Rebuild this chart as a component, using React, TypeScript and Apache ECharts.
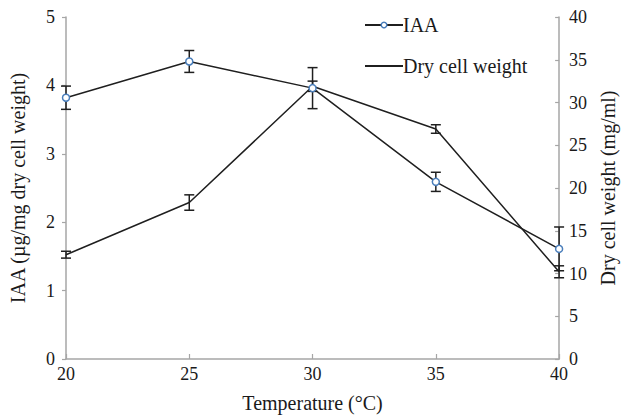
import React, { useEffect, useRef } from "react";
import * as echarts from "echarts";

const temps = [20, 25, 30, 35, 40];
const iaa = [3.82, 4.35, 3.96, 2.59, 1.61];
const iaaErr = [0.17, 0.16, 0.3, 0.14, 0.32];
const dcw = [12.2, 18.3, 31.9, 26.9, 10.2];
const dcwErr = [0.4, 0.9, 0.6, 0.5, 0.7];

const FONT = "Liberation Serif";
const TXT = "#1a1a1a";
const AX = "#a6a6a6";
const LINE = "#1f1f1f";
const BLUE = "#4a7ebb";

function errRender(params: any, api: any) {
  const x = api.value(0);
  const y = api.value(1);
  const e = api.value(2);
  const top = api.coord([x, y + e]);
  const bot = api.coord([x, y - e]);
  const w = 5;
  const style = { stroke: LINE, lineWidth: 1.5 };
  return {
    type: "group",
    children: [
      { type: "line", shape: { x1: top[0], y1: top[1], x2: bot[0], y2: bot[1] }, style },
      { type: "line", shape: { x1: top[0] - w, y1: top[1], x2: top[0] + w, y2: top[1] }, style },
      { type: "line", shape: { x1: bot[0] - w, y1: bot[1], x2: bot[0] + w, y2: bot[1] }, style },
    ],
  };
}

export default function App() {
  const ref = useRef<HTMLDivElement>(null);
  useEffect(() => {
    document.body.style.margin = "0";
    if (!ref.current) return;
    const chart = echarts.init(ref.current, undefined, { renderer: "svg" });
    const tickText = { color: TXT, fontFamily: FONT, fontSize: 18 };
    const nameText = { color: TXT, fontFamily: FONT, fontSize: 20 };
    chart.setOption({
      animation: false,
      backgroundColor: "#fff",
      textStyle: { fontFamily: FONT },
      grid: { left: 66, right: 61, top: 17, bottom: 54 },
      legend: {
        orient: "vertical",
        left: 359,
        top: 10,
        itemWidth: 38,
        itemHeight: 7,
        itemGap: 21,
        textStyle: { ...nameText, padding: [0, 0, 0, -5] },
        data: [
          { name: "IAA", itemStyle: { color: "#fff", borderColor: BLUE, borderWidth: 1.5 } },
          { name: "Dry cell weight", itemStyle: { opacity: 0 } },
        ],
      },
      xAxis: {
        type: "value",
        min: 20,
        max: 40,
        interval: 5,
        name: "Temperature (°C)",
        nameLocation: "middle",
        nameGap: 34,
        nameTextStyle: nameText,
        axisLine: { lineStyle: { color: AX, width: 1.5 } },
        axisTick: { show: true, inside: true, length: 5, lineStyle: { color: AX, width: 1.2 } },
        axisLabel: { ...tickText, margin: 6 },
        splitLine: { show: false },
      },
      yAxis: [
        {
          type: "value",
          min: 0,
          max: 5,
          interval: 1,
          name: "IAA (µg/mg dry cell weight)",
          nameLocation: "middle",
          nameRotate: 90,
          nameGap: 38,
          nameTextStyle: nameText,
          axisLine: { show: true, lineStyle: { color: AX, width: 1.5 } },
          axisTick: { show: true, inside: false, length: 4, lineStyle: { color: AX, width: 1.2 } },
          axisLabel: { ...tickText, margin: 11 },
          splitLine: { show: false },
        },
        {
          type: "value",
          position: "right",
          min: 0,
          max: 40,
          interval: 5,
          name: "Dry cell weight (mg/ml)",
          nameLocation: "middle",
          nameRotate: 90,
          nameGap: 36,
          nameTextStyle: nameText,
          axisLine: { show: true, lineStyle: { color: AX, width: 1.5 } },
          axisTick: { show: true, inside: true, length: 4, lineStyle: { color: AX, width: 1.2 } },
          axisLabel: { ...tickText, margin: 10 },
          splitLine: { show: false },
        },
      ],
      series: [
        {
          name: "IAA",
          type: "line",
          yAxisIndex: 0,
          data: temps.map((t, i) => [t, iaa[i]]),
          symbol: "circle",
          symbolSize: 7,
          lineStyle: { color: LINE, width: 1.5 },
          itemStyle: { color: "#fff", borderColor: BLUE, borderWidth: 1.5 },
          z: 3,
        },
        {
          name: "Dry cell weight",
          type: "line",
          yAxisIndex: 1,
          data: temps.map((t, i) => [t, dcw[i]]),
          symbol: "none",
          lineStyle: { color: LINE, width: 1.5 },
          itemStyle: { color: LINE },
          z: 2,
        },
        {
          name: "IAA err",
          type: "custom",
          yAxisIndex: 0,
          renderItem: errRender,
          data: temps.map((t, i) => [t, iaa[i], iaaErr[i]]),
          z: 2,
        },
        {
          name: "DCW err",
          type: "custom",
          yAxisIndex: 1,
          renderItem: errRender,
          data: temps.map((t, i) => [t, dcw[i], dcwErr[i]]),
          z: 2,
        },
      ],
    });
    return () => chart.dispose();
  }, []);
  return <div ref={ref} style={{ width: 626, height: 418 }} />;
}
